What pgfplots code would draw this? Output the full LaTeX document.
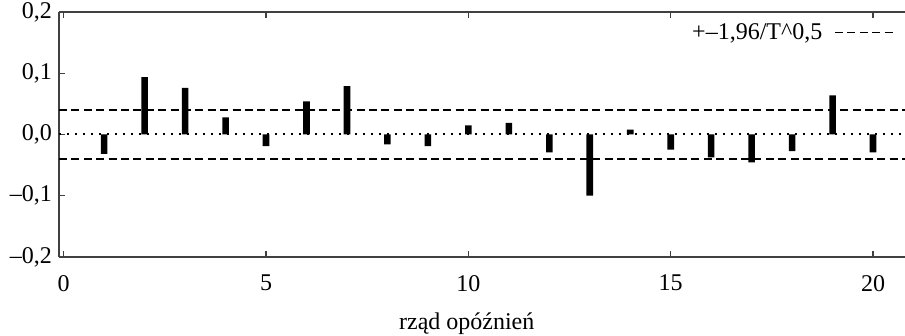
\documentclass[border=0pt]{standalone}
\usepackage{pgfplots}
\pgfplotsset{compat=1.18}
\usepackage{fontspec}
\setmainfont{Liberation Serif}
\begin{document}
\begin{tikzpicture}
\begin{axis}[
  at={(0pt,0pt)}, anchor=south west,
  scale only axis, width=423pt, height=122.5pt,
  xmin=-0.116, xmax=20.79, ymin=-0.2, ymax=0.2,
  axis x line=box, axis y line=left,
  axis line style={black!75, line width=0.6pt, -},
  y axis line style={-},
  xtick={0,5,10,15,20}, xticklabels={0,5,10,15,20},
  ytick={-0.2,-0.1,0,0.1,0.2},
  yticklabels={{--0,2},{--0,1},{0,0},{0,1},{0,2}},
  tick align=inside, major tick length=3pt,
  tick style={black!75, line width=0.6pt},
  ticklabel style={font=\fontsize{12}{14}\selectfont},
  xticklabel style={yshift=-5.5pt},
  xlabel={rząd opóźnień},
  xlabel style={font=\fontsize{12}{14}\selectfont, at={(axis description cs:0.482,-0.295)}, anchor=base},
  legend style={draw=none, fill=none, font=\fontsize{12}{14}\selectfont, at={(axis description cs:0.9905,0.915)}, anchor=east, inner sep=0pt,
    /tikz/every odd column/.append style={column sep=4pt}},
  legend plot pos=right,
  legend cell align=right,
  legend image code/.code={\draw[#1] (0pt,0pt) -- (30.5pt,0pt);},
  clip=false,
]
\addplot[black, line width=0.6pt, dash pattern=on 4pt off 2.2pt]
  coordinates {(-0.116,0.04) (20.79,0.04)};
\addlegendentry{+--1,96/T\textasciicircum 0,5}
\addplot[black, line width=0.6pt, dash pattern=on 4pt off 2.2pt, forget plot]
  coordinates {(-0.116,-0.04) (20.79,-0.04)};
\addplot[black, line width=1pt, dash pattern=on 1pt off 3pt, forget plot]
  coordinates {(-0.116,0) (20.79,0)};
\addplot[ybar, bar width=3.3pt, fill=black, draw=none, forget plot] coordinates {
 (1,-0.0315) (2,0.0935) (3,0.076) (4,0.028) (5,-0.019)
 (6,0.054) (7,0.079) (8,-0.016) (9,-0.019) (10,0.015)
 (11,0.019) (12,-0.029) (13,-0.100) (14,0.008) (15,-0.0245)
 (16,-0.0375) (17,-0.0457) (18,-0.027) (19,0.064) (20,-0.029)
};
\end{axis}
\pgfresetboundingbox
\path (-29.5pt,-39.5pt) rectangle (423pt,128.5pt);
\end{tikzpicture}
\end{document}
